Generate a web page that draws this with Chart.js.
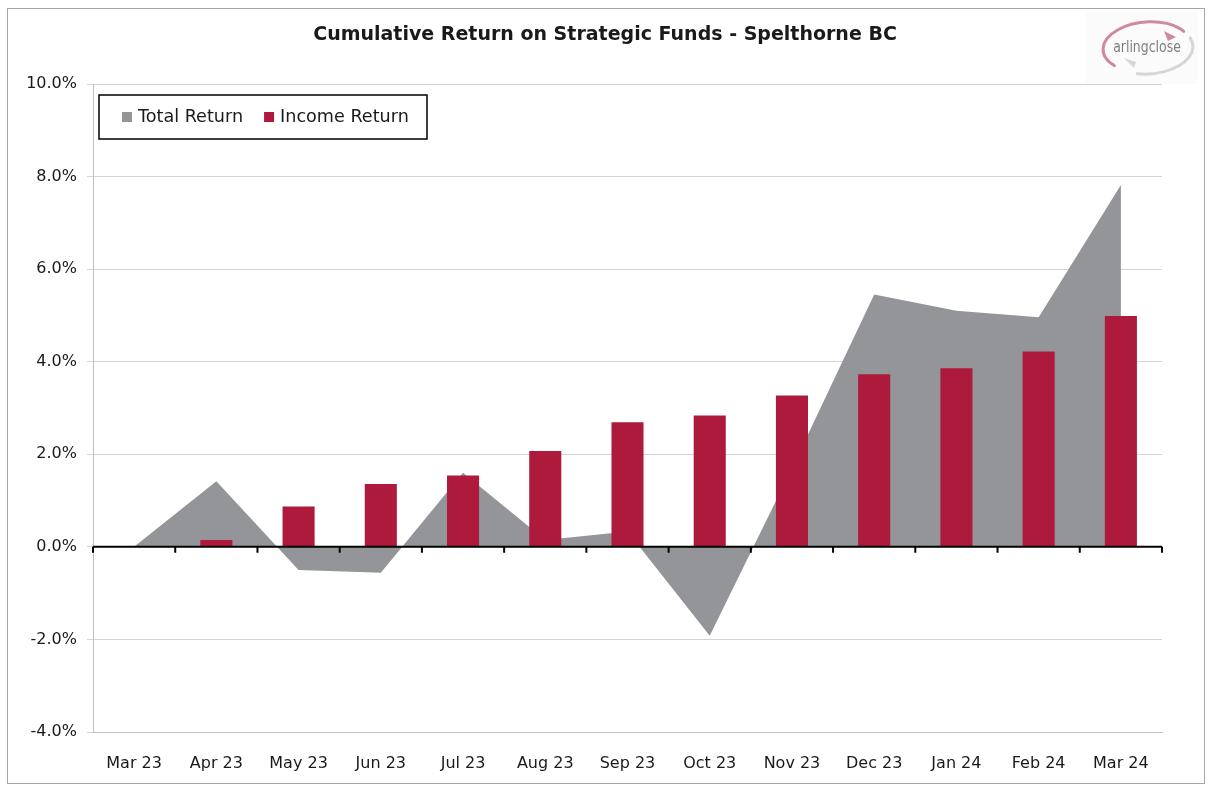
<!DOCTYPE html>
<html>
<head>
<meta charset="utf-8">
<script src="https://cdn.jsdelivr.net/npm/chart.js@4.4.1/dist/chart.umd.min.js"></script>
<style>
  body { margin: 0; background: #fff; }
  #wrap { position: relative; width: 1208px; height: 785px; }
</style>
</head>
<body>
<div id="wrap"><canvas id="chart" width="1208" height="785"></canvas></div>
<script>
// data
const months = ['Mar 23', 'Apr 23', 'May 23', 'Jun 23', 'Jul 23', 'Aug 23', 'Sep 23',
                'Oct 23', 'Nov 23', 'Dec 23', 'Jan 24', 'Feb 24', 'Mar 24'];
const totalReturn = [0, 1.42, -0.5, -0.56, 1.6, 0.15, 0.33, -1.92, 1.7, 5.45, 5.1, 4.96, 7.82];
const incomeReturn = [0, 0.15, 0.87, 1.36, 1.54, 2.07, 2.69, 2.84, 3.27, 3.73, 3.86, 4.22, 4.99];

const GREY = '#939598';
const RED = '#ae1a3c';
const FONT = "'DejaVu Sans', sans-serif";

// white background, outer frame, title and logo
const framePlugin = {
    id: 'frame',
    beforeDraw(chart) {
        const ctx = chart.ctx;
        ctx.save();
        ctx.fillStyle = '#fff';
        ctx.fillRect(0, 0, chart.width, chart.height);
        ctx.strokeStyle = '#a6a6a6';
        ctx.lineWidth = 1;
        ctx.strokeRect(7.5, 8.5, 1197, 775);

        ctx.fillStyle = '#1a1a1a';
        ctx.font = 'bold 19px ' + FONT;
        ctx.textAlign = 'center';
        ctx.textBaseline = 'middle';
        ctx.fillText('Cumulative Return on Strategic Funds - Spelthorne BC', 605, 35);

        // arlingclose logo
        ctx.fillStyle = '#fbfbfb';
        ctx.fillRect(1086, 12, 112, 72);
        ctx.lineWidth = 3;
        ctx.lineCap = 'round';
        ctx.strokeStyle = '#cf8a9c';
        ctx.beginPath();
        ctx.ellipse(1147, 47, 44, 25, -0.08, Math.PI * 0.78, Math.PI * 1.83);
        ctx.stroke();
        ctx.fillStyle = '#cf8a9c';
        ctx.beginPath();
        ctx.moveTo(1176, 37);
        ctx.lineTo(1164, 31);
        ctx.lineTo(1168, 41);
        ctx.fill();
        ctx.strokeStyle = '#d6d6d8';
        ctx.beginPath();
        ctx.ellipse(1149, 49, 44, 25, -0.08, -Math.PI * 0.1, Math.PI * 0.6);
        ctx.stroke();
        ctx.fillStyle = '#d6d6d8';
        ctx.beginPath();
        ctx.moveTo(1124, 58);
        ctx.lineTo(1134, 68);
        ctx.lineTo(1136, 62);
        ctx.fill();
        ctx.fillStyle = '#7d7d7d';
        ctx.font = '16px ' + FONT;
        ctx.textAlign = 'center';
        ctx.translate(1147, 48);
        ctx.scale(0.78, 1);
        ctx.fillText('arlingclose', 0, 0);
        ctx.restore();
    },
    afterDatasetsDraw(chart) {
        // zero line with category tick marks
        const ctx = chart.ctx;
        const area = chart.chartArea;
        const y0 = chart.scales.y.getPixelForValue(0);
        const n = months.length;
        ctx.save();
        ctx.strokeStyle = '#000';
        ctx.lineWidth = 2;
        ctx.beginPath();
        ctx.moveTo(area.left, y0);
        ctx.lineTo(area.right, y0);
        for (let i = 0; i <= n; i++) {
            const x = area.left + i * (area.right - area.left) / n;
            ctx.moveTo(x, y0);
            ctx.lineTo(x, y0 + 6);
        }
        ctx.stroke();
        ctx.restore();
    },
    afterDraw(chart) {
        // boxed legend inside the plot
        const ctx = chart.ctx;
        ctx.save();
        ctx.fillStyle = '#fff';
        ctx.strokeStyle = '#000';
        ctx.lineWidth = 1.5;
        ctx.fillRect(99, 95, 328, 44);
        ctx.strokeRect(99, 95, 328, 44);
        ctx.font = '17.6px ' + FONT;
        ctx.textBaseline = 'middle';
        ctx.textAlign = 'left';
        let x = 122;
        chart.data.datasets.forEach(ds => {
            ctx.fillStyle = ds.backgroundColor;
            ctx.fillRect(x, 112, 10, 10);
            ctx.fillStyle = '#1a1a1a';
            ctx.fillText(ds.label, x + 16, 117);
            x += 16 + ctx.measureText(ds.label).width + 21;
        });
        ctx.restore();
    }
};

const ctx = document.getElementById('chart').getContext('2d');
const chart = new Chart(ctx, {
    data: {
        labels: months,
        datasets: [{
            type: 'line',
            label: 'Total Return',
            data: totalReturn,
            backgroundColor: GREY,
            borderColor: GREY,
            borderWidth: 0,
            pointRadius: 0,
            tension: 0,
            fill: 'origin',
            order: 2
        }, {
            type: 'bar',
            label: 'Income Return',
            data: incomeReturn,
            backgroundColor: RED,
            categoryPercentage: 1,
            barPercentage: 0.39,
            order: 1
        }]
    },
    options: {
        responsive: false,
        animation: false,
        layout: { padding: { left: 20, right: 46, top: 84, bottom: 0 } },
        plugins: {
            legend: { display: false },
            tooltip: { enabled: false }
        },
        scales: {
            x: {
                offset: true,
                grid: { display: false },
                border: { display: true, color: '#bfbfbf' },
                ticks: {
                    color: '#1a1a1a',
                    font: { family: FONT, size: 16 },
                    padding: 14,
                    maxRotation: 0
                },
                afterFit(scale) { scale.height = 53; }
            },
            y: {
                min: -4,
                max: 10,
                grid: { color: '#d4d4d4', tickLength: 6 },
                border: { color: '#bfbfbf' },
                ticks: {
                    stepSize: 2,
                    color: '#1a1a1a',
                    font: { family: FONT, size: 16 },
                    padding: 10,
                    callback: v => v.toFixed(1) + '%'
                },
                afterFit(scale) { scale.width = 73; }
            }
        }
    },
    plugins: [framePlugin]
});
</script>
</body>
</html>
